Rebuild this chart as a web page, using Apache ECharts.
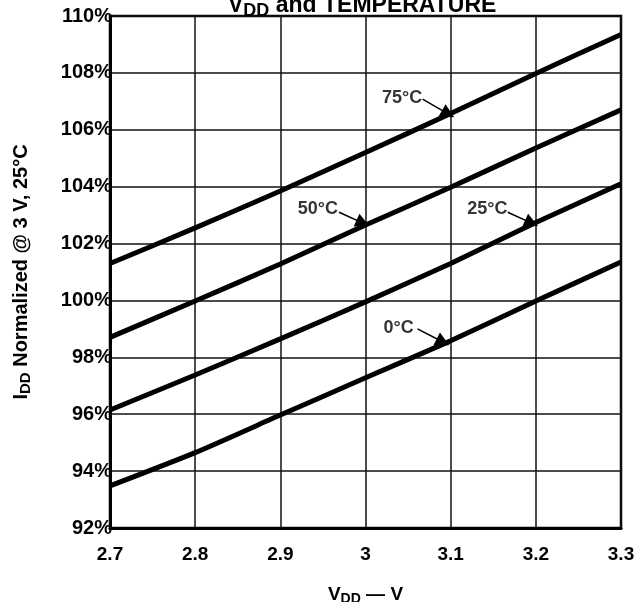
<!DOCTYPE html>
<html>
<head>
<meta charset="utf-8">
<script src="https://cdn.jsdelivr.net/npm/echarts@6/dist/echarts.min.js"></script>
<style>
html,body{margin:0;padding:0;background:#fff;}
#c{width:639px;height:602px;}
</style>
</head>
<body>
<div id="c"></div>
<script>
// ---- data ----
var vdd = [2.7, 2.8, 2.9, 3.0, 3.1, 3.2, 3.3];
var xTickLabels = ['2.7', '2.8', '2.9', '3', '3.1', '3.2', '3.3'];
var yTickLabels = ['92%', '94%', '96%', '98%', '100%', '102%', '104%', '106%', '108%', '110%'];
var t0  = [93.48, 94.65, 95.97, 97.28, 98.58, 99.98, 101.35];
var t25 = [96.15, 97.38, 98.65, 99.95, 101.30, 102.74, 104.10];
var t50 = [98.70, 99.98, 101.28, 102.65, 103.98, 105.36, 106.70];
var t75 = [101.30, 102.55, 103.85, 105.20, 106.57, 107.98, 109.35];

var annotLabels = ['75°C', '50°C', '25°C', '0°C'];
var annotTextPos = [[3.043, 107.12], [2.944, 103.22], [3.143, 103.22], [3.039, 99.03]];
var annotArrowFrom = [[3.067, 107.08], [2.969, 103.10], [3.167, 103.10], [3.061, 99.00]];
var annotArrowTo = [[3.097, 106.56], [2.997, 102.72], [3.195, 102.72], [3.091, 98.54]];

function pairs(xs, ys) { return xs.map(function (x, i) { return [x, ys[i]]; }); }

var FONT = '"Liberation Sans", Arial, sans-serif';
var chart = echarts.init(document.getElementById('c'));

function curve(vals) {
  return {
    type: 'line', data: pairs(vdd, vals), smooth: 0.2, symbol: 'none',
    lineStyle: { color: '#000', width: 5 }, z: 5
  };
}

var option = {
  animation: false,
  backgroundColor: '#fff',
  title: {
    text: '{m|V}{s|DD}{m| and TEMPERATURE}',
    left: 223,
    top: -12,
    textStyle: {
      rich: {
        m: { fontFamily: FONT, fontWeight: 'bold', fontSize: 23, color: '#000', lineHeight: 26 },
        s: { fontFamily: FONT, fontWeight: 'bold', fontSize: 18, color: '#000', lineHeight: 26, padding: [10, 0, 0, 0] }
      }
    }
  },
  grid: {
    left: 110, right: 18, top: 16, bottom: 74, outerBoundsMode: 'none', containLabel: false,
    show: true, borderColor: '#000', borderWidth: 2.5, backgroundColor: 'transparent'
  },
  xAxis: {
    type: 'value', min: 2.7, max: 3.3, interval: 0.1,
    name: '{m|V}{s|DD}{m| — V}',
    nameLocation: 'middle', nameGap: 55,
    nameTextStyle: {
      rich: {
        m: { fontFamily: FONT, fontWeight: 'bold', fontSize: 19, color: '#000', lineHeight: 24 },
        s: { fontFamily: FONT, fontWeight: 'bold', fontSize: 14, color: '#000', lineHeight: 24, padding: [8, 0, 0, 0] }
      }
    },
    axisLine: { lineStyle: { color: '#000', width: 3 } },
    axisTick: { show: false },
    axisLabel: {
      margin: 17, fontFamily: FONT, fontWeight: 'bold', fontSize: 19, color: '#000',
      formatter: function (v) { return xTickLabels[Math.round((v - 2.7) / 0.1)]; }
    },
    splitLine: { show: true, lineStyle: { color: '#111', width: 1.5 } }
  },
  yAxis: {
    type: 'value', min: 92, max: 110, interval: 2,
    name: '{m|I}{s|DD}{m| Normalized @ 3 V, 25°C}',
    nameLocation: 'middle', nameGap: 77, nameRotate: 90,
    nameTextStyle: {
      rich: {
        m: { fontFamily: FONT, fontWeight: 'bold', fontSize: 20, color: '#000', lineHeight: 24 },
        s: { fontFamily: FONT, fontWeight: 'bold', fontSize: 15, color: '#000', lineHeight: 24, padding: [9, 0, 0, 0] }
      }
    },
    axisLine: { show: true, lineStyle: { color: '#000', width: 3 } },
    axisTick: { show: false },
    axisLabel: {
      margin: -2, fontFamily: FONT, fontWeight: 'bold', fontSize: 20, color: '#000',
      formatter: function (v) { return yTickLabels[Math.round((v - 92) / 2)]; }
    },
    splitLine: { show: true, lineStyle: { color: '#111', width: 1.5 } }
  },
  series: [
    curve(t0), curve(t25), curve(t50), curve(t75),
    {
      type: 'lines', coordinateSystem: 'cartesian2d', z: 6,
      symbol: ['none', 'triangle'], symbolSize: [0, 14],
      lineStyle: { color: '#000', width: 1.5, opacity: 1 },
      data: annotArrowFrom.map(function (p, i) { return { coords: [p, annotArrowTo[i]] }; })
    },
    {
      type: 'scatter', symbolSize: 0, z: 7, silent: true,
      data: annotTextPos.map(function (p, i) { return { value: p, name: annotLabels[i] }; }),
      label: {
        show: true, position: 'inside', formatter: '{b}',
        fontFamily: FONT, fontWeight: 'bold', fontSize: 18, color: '#000'
      }
    }
  ]
};
chart.setOption(option);
</script>
</body>
</html>
